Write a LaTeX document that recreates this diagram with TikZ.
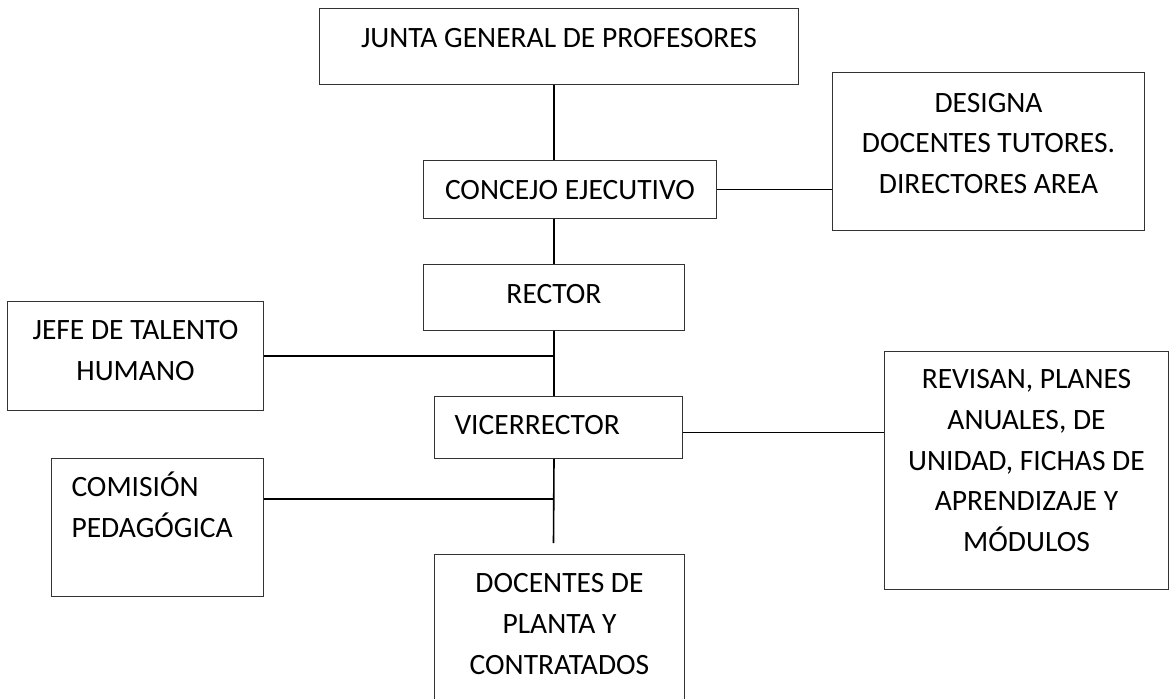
\documentclass[tikz,border=0pt]{standalone}
\usepackage{fontspec}
\setmainfont{Carlito}
\usetikzlibrary{%
  positioning,% wg. " of "
  calc%
}

\begin{document}
\begin{tikzpicture}
[x=1pt, y=-1pt, line width=1.6pt, draw=black,
cargo/.style={rectangle, draw=black!80, line width=1pt, inner xsep=10pt, inner ysep=0pt, align=flush center, anchor=north west, text height=38.5pt, font=\fontsize{29.5}{40.8}\selectfont},
cargoizq/.style={cargo, align=flush left, inner xsep=20pt}]
\useasboundingbox (0,0) rectangle (1176,699);

\node[cargo, text width=459pt, text depth=37.5pt] (junta) at (319,8) {JUNTA GENERAL DE PROFESORES};
\node[cargo, text width=273pt, text depth=19.5pt] (concejo) at (423,160) {CONCEJO EJECUTIVO};
\node[cargo, text width=292pt, text height=39.5pt, text depth=118.5pt] (designa) at (832,72) {DESIGNA\\DOCENTES TUTORES.\\DIRECTORES AREA};
\node[cargo, text width=241pt, text depth=27.5pt] (rector) at (423,264) {RECTOR};
\node[cargo, text width=236pt, text height=38pt, text depth=71pt] (jefe) at (7,301) {JEFE DE TALENTO\\HUMANO};
\node[cargoizq, text width=208pt, text height=38pt, text depth=24pt] (vicerrector) at (434,396) {VICERRECTOR};
\node[cargo, text width=264pt, text height=37pt, text depth=201pt] (revisan) at (884,351) {REVISAN, PLANES\\ANUALES, DE\\UNIDAD, FICHAS DE\\APRENDIZAJE Y\\MÓDULOS};
\node[cargoizq, text width=172pt, text height=38pt, text depth=100pt] (comision) at (51,458) {COMISIÓN\\PEDAGÓGICA};
\node[cargo, text width=230pt, text height=38pt, text depth=122pt] (docentes) at (434,554) {DOCENTES DE\\PLANTA Y\\CONTRATADOS};

\coordinate (ramal) at (553.5,499);
\coordinate (finlinea) at (553.5,543);

\draw (junta.south -| rector.north) -- (concejo.north -| rector.north);
\draw (concejo.south -| rector.north) -- (rector.north);
\draw (concejo.east) -- (concejo.east -| designa.west);
\draw (rector.south) -- (vicerrector.north -| rector.south);
\draw (jefe.east) -- (jefe.east -| rector.south);
\draw ([yshift=-5pt]vicerrector.east) -- ([yshift=-5pt]vicerrector.east -| revisan.west);
\draw (vicerrector.south -| rector.south) -- (finlinea);
\draw (comision.east |- ramal) -- (ramal);
\end{tikzpicture}
\end{document}
